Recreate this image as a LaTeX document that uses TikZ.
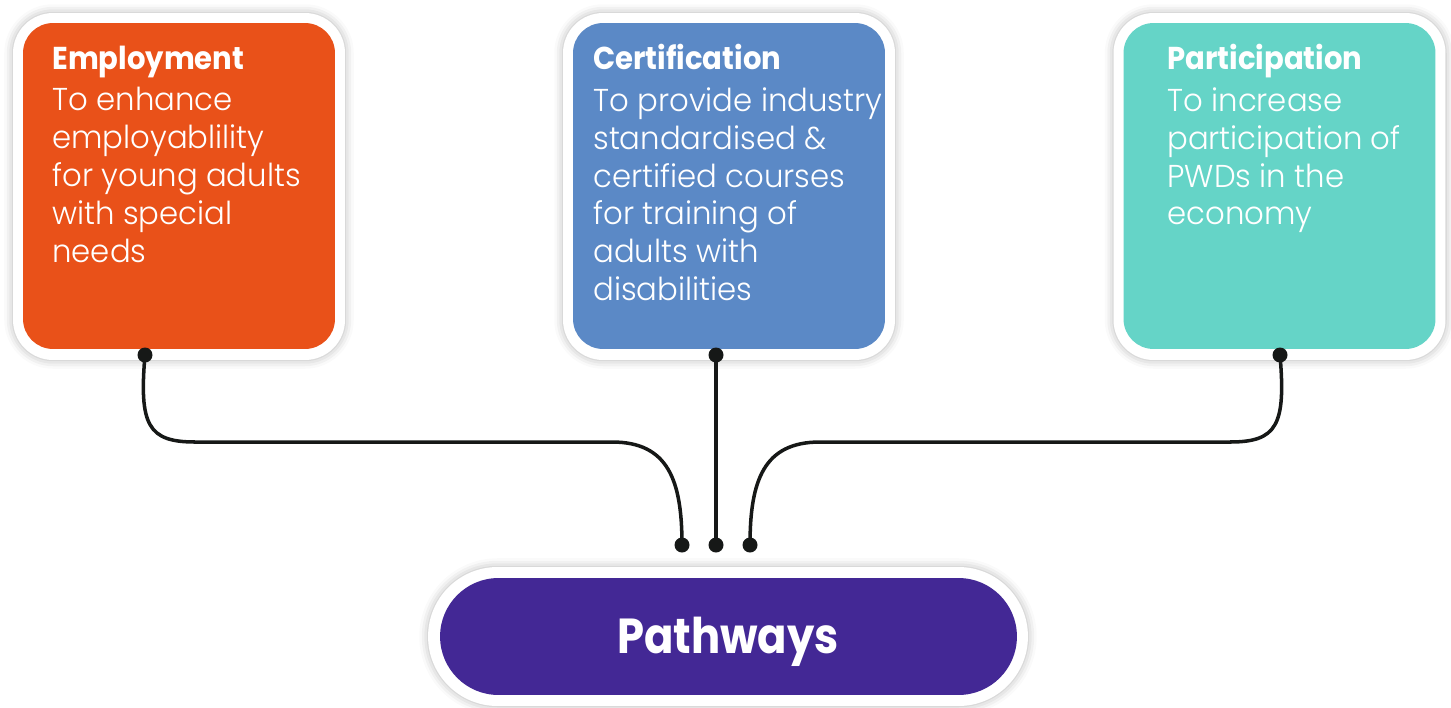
\documentclass[tikz,border=0pt]{standalone}
\usepackage{fontspec}
\setmainfont{Poppins}
\newfontfamily\bodyfont{Poppins Light}[FakeStretch=0.972]
\newfontfamily\headfont{Poppins}[FakeStretch=0.92]
\newfontfamily\bigfont{Poppins}[FakeStretch=0.88]
\usetikzlibrary{shadows.blur}
\definecolor{orng}{HTML}{E95119}
\definecolor{blu}{HTML}{5B89C6}
\definecolor{teal2}{HTML}{65D4C7}
\definecolor{purp}{HTML}{432895}
\definecolor{ink}{HTML}{161817}
\begin{document}
\begin{tikzpicture}[x=0.02cm,y=-0.02cm,
  outerbox/.style={fill=white, draw=none, rounded corners=0.8cm, inner sep=0,
    blur shadow={shadow xshift=0pt, shadow yshift=0pt, shadow blur radius=5pt, shadow opacity=30}},
  innerbox/.style={draw=none, rounded corners=0.6cm, inner sep=0},
  titletext/.style={font=\headfont\bfseries\fontsize{18}{22}\selectfont, text=white, anchor=base west, inner sep=0},
  bodytext/.style={font=\bodyfont\fontsize{18}{21.6}\selectfont, text=white, align=left, anchor=north west, inner sep=0},
  dot/.style={circle, fill=ink, minimum size=0.3cm, inner sep=0},
  link/.style={draw=ink, line width=2pt}]
\useasboundingbox (0,0) rectangle (1451,707);
% top boxes
\node[outerbox, minimum width=6.64cm, minimum height=6.94cm] (o1) at (179,186.5) {};
\node[innerbox, fill=orng, minimum width=6.24cm, minimum height=6.52cm] (b1) at (179,186) {};
\node[outerbox, minimum width=6.64cm, minimum height=6.94cm] (o2) at (729,186.5) {};
\node[innerbox, fill=blu, minimum width=6.24cm, minimum height=6.52cm] (b2) at (729,186) {};
\node[outerbox, minimum width=6.64cm, minimum height=6.94cm] (o3) at (1279.5,186.5) {};
\node[innerbox, fill=teal2, minimum width=6.24cm, minimum height=6.52cm] (b3) at (1279.5,186) {};
% texts
\node[titletext] (t1) at (52,69) {Employment};
\node[bodytext] (x1) at (52,87) {To enhance\\employablility\\for young adults\\with special\\needs};
\node[titletext] (t2) at (593,69) {Certification};
\node[bodytext] (x2) at (593,87) {To provide industry\\standardised \&\\certified courses\\for training of\\adults with\\disabilities};
\node[titletext] (t3) at (1167,69) {Participation};
\node[bodytext] (x3) at (1167,87) {To increase\\participation of\\PWDs in the\\economy};
% bottom box
\node[outerbox, rounded corners=1.39cm, minimum width=12cm, minimum height=2.78cm] (op) at (728,636.5) {};
\node[innerbox, fill=purp, rounded corners=1.17cm, minimum width=11.54cm, minimum height=2.34cm] (p) at (728.5,636.5) {};
\node[font=\bigfont\bfseries\fontsize{28}{32}\selectfont, text=white, anchor=base, inner sep=0] (pt) at (728,653) {Pathways};
% dots
\node[dot] (d1) at (145,355) {};
\node[dot] (d2) at (716,355) {};
\node[dot] (d3) at (1280,355) {};
\node[dot] (e1) at (682,545) {};
\node[dot] (e2) at (716,545) {};
\node[dot] (e3) at (750,545) {};
% connectors
\draw[link] (d1.center) .. controls (139,425) and (148,442) .. (195,442) -- (612,442) .. controls (668,442) and (682,480) .. (e1.center);
\draw[link] (d2.center) -- (e2.center);
\draw[link] (d3.center) .. controls (1286,425) and (1277,442) .. (1230,442) -- (820,442) .. controls (764,442) and (750,480) .. (e3.center);
\end{tikzpicture}
\end{document}
